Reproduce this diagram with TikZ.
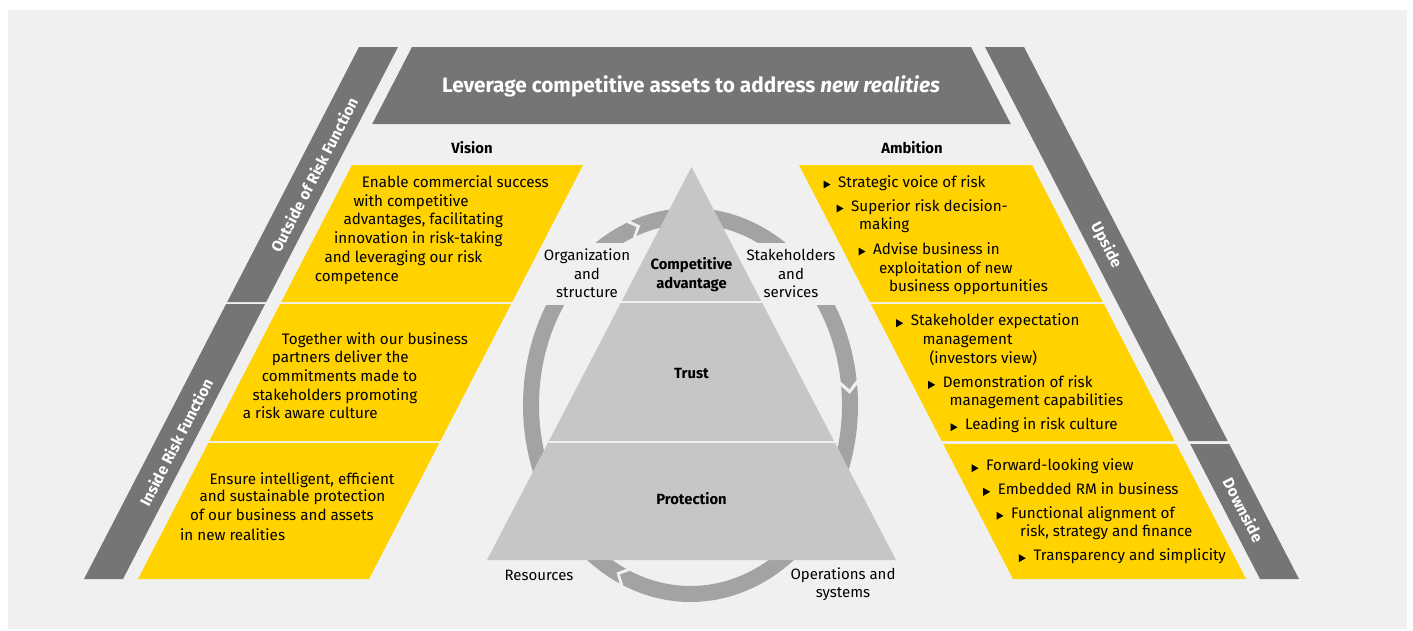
\documentclass[tikz,border=0pt]{standalone}
\usepackage{fontspec}
\setmainfont{Fira Sans}
\definecolor{panel}{HTML}{F0F0F0}
\definecolor{bandgray}{HTML}{757575}
\definecolor{eyyellow}{HTML}{FFD200}
\definecolor{pyrgray}{HTML}{C6C6C6}
\definecolor{ringgray}{HTML}{A3A3A3}

% one segment of the elliptical cycle arrow: notch at #1, pointed tip after #2
\newcommand\ringarrow[2]{%
  \fill[ringgray]
    plot[domain=#1:#2,samples=60] ({690.5+167.5*cos(\x)},{405+197*sin(\x)})
    -- ({690.5+159.5*cos(#2+2.6)},{405+189*sin(#2+2.6)})
    -- plot[domain=#2:#1,samples=60] ({690.5+151.5*cos(\x)},{405+181*sin(\x)})
    -- ({690.5+159.5*cos(#1+2.6)},{405+189*sin(#1+2.6)}) -- cycle;}

% plain text line and bulleted text line
\newcommand\tline[4]{\node[body,anchor=mid west] (#1) at (#2,#3) {#4};}
\newcommand\bline[4]{%
  \node[body,anchor=mid west] (#1) at (#2,#3) {#4};
  \fill ([shift={(-14.5,-4)}]#1.mid west) -- ++(7,4) -- ++(-7,4) -- cycle;}

\begin{document}
\begin{tikzpicture}[x=1pt,y=-1pt,
  body/.style={font=\fontsize{15.2}{18.8}\selectfont, inner sep=0pt, text=black, yshift=-2.5pt},
  boldtxt/.style={font=\fontsize{14.8}{18.8}\selectfont\bfseries, inner sep=0pt, align=center, text=black},
  ringlbl/.style={font=\fontsize{15}{18.5}\selectfont, inner sep=0pt, align=center, text=black},
  bandtxt/.style={font=\fontsize{15.5}{17}\selectfont\bfseries, inner sep=0pt, text=white},
  band/.style={fill=bandgray},
  ybox/.style={fill=eyyellow}]

\useasboundingbox (0,0) rectangle (1413,630);
\fill[white] (0,0) rectangle (1413,630);
\fill[panel] (8,10) rectangle (1407,629);

% cycle arrows around the pyramid
\ringarrow{-5.9}{113.6}
\ringarrow{115.1}{247.6}
\ringarrow{249.1}{352.6}
% room for the side labels
\fill[panel] (520,243) rectangle (665,305);
\fill[panel] (720,243) rectangle (875,305);

% pyramid
\fill[pyrgray] (691.5,167) -- (896,560) -- (487,560) -- cycle;
\draw[panel, line width=2.5pt] (621.3,302) -- (761.7,302);
\draw[panel, line width=2.5pt] (548.5,442) -- (834.5,442);

% top banner
\fill[band] (412,47) -- (971,47) -- (1010.8,124) -- (372.2,124) -- cycle;

% left bands
\fill[band] (359,47) -- (398,47) -- (266.2,302) -- (227.2,302) -- cycle;
\fill[band] (226.1,304) -- (265.1,304) -- (123,579) -- (84,579) -- cycle;
% right bands
\fill[band] (985,47) -- (1024,47) -- (1227.7,441) -- (1188.7,441) -- cycle;
\fill[band] (1190.2,444) -- (1229.2,444) -- (1299,579) -- (1260,579) -- cycle;

% left yellow boxes
\fill[ybox] (352,165) -- (583,165) -- (512.2,302) -- (281.2,302) -- cycle;
\fill[ybox] (280.1,304) -- (511.1,304) -- (440.3,441) -- (209.3,441) -- cycle;
\fill[ybox] (208.3,443) -- (439.3,443) -- (369,579) -- (138,579) -- cycle;
% right yellow boxes
\fill[ybox] (799,165) -- (1032,165) -- (1102.8,302) -- (869.8,302) -- cycle;
\fill[ybox] (870.9,304) -- (1103.9,304) -- (1174.7,441) -- (941.7,441) -- cycle;
\fill[ybox] (943.2,444) -- (1176.2,444) -- (1246,579) -- (1013,579) -- cycle;

% headings
\node[font=\fontsize{20.8}{24}\selectfont\bfseries, text=white, inner sep=0pt] (title) at (691,86)
  {Leverage competitive assets to address \textit{new realities}};
\node[boldtxt] (vision) at (472,148) {Vision};
\node[boldtxt] (ambition) at (912,148) {Ambition};

% band labels
\node[bandtxt, rotate=62.7] (outside) at (314,175) {Outside of Risk Function};
\node[bandtxt, rotate=62.7] (inside) at (176,442) {Inside Risk Function};
\node[bandtxt, rotate=-62.7] (upside) at (1106,245) {Upside};
\node[bandtxt, rotate=-62.7] (downside) at (1243.5,510) {Downside};

% pyramid labels
\node[boldtxt] (compadv) at (691.5,275) {Competitive\\advantage};
\node[boldtxt] (trust) at (691.5,373) {Trust};
\node[boldtxt] (protect) at (691.5,499) {Protection};

% cycle labels
\node[ringlbl] (org) at (587,273.5) {Organization\\and\\structure};
\node[ringlbl] (stake) at (791,273.5) {Stakeholders\\and\\services};
\node[ringlbl] (res) at (539,575) {Resources};
\node[ringlbl] (ops) at (843,584) {Operations and\\systems};

% vision texts
\tline{va1}{361.7}{182}{Enable commercial success}
\tline{va2}{353.3}{201}{with competitive}
\tline{va3}{343.3}{219.5}{advantages, facilitating}
\tline{va4}{334}{238}{innovation in risk-taking}
\tline{va5}{324.3}{257}{and leveraging our risk}
\tline{va6}{314.7}{276}{competence}

\tline{vb1}{281.7}{339.3}{Together with our business}
\tline{vb2}{271.7}{357.7}{partners deliver the}
\tline{vb3}{261.7}{376.7}{commitments made to}
\tline{vb4}{252.3}{395.7}{stakeholders promoting}
\tline{vb5}{242.7}{413.7}{a risk aware culture}

\tline{vc1}{209.3}{479}{Ensure intelligent, efficient}
\tline{vc2}{199.3}{496.7}{and sustainable protection}
\tline{vc3}{190}{515.7}{of our business and assets}
\tline{vc4}{180}{535}{in new realities}

% ambition texts
\bline{aa1}{838}{182}{Strategic voice of risk}
\bline{aa2}{851}{206}{Superior risk decision-}
\tline{aa3}{859}{224}{making}
\bline{aa4}{873}{249}{Advise business in}
\tline{aa5}{879}{268}{exploitation of new}
\tline{aa6}{889}{286}{business opportunities}

\bline{ab1}{910.7}{320.7}{Stakeholder expectation}
\tline{ab2}{922.3}{339.3}{management}
\tline{ab3}{929.3}{358.3}{(investors view)}
\bline{ab4}{942.7}{382.3}{Demonstration of risk}
\tline{ab5}{949.3}{400.7}{management capabilities}
\bline{ab6}{965}{424.7}{Leading in risk culture}

\bline{ac1}{986}{465.7}{Forward-looking view}
\bline{ac2}{997.7}{489.3}{Embedded RM in business}
\bline{ac3}{1011}{513.3}{Functional alignment of}
\tline{ac4}{1020}{531.7}{risk, strategy and finance}
\bline{ac5}{1033.3}{555.7}{Transparency and simplicity}

\end{tikzpicture}
\end{document}
